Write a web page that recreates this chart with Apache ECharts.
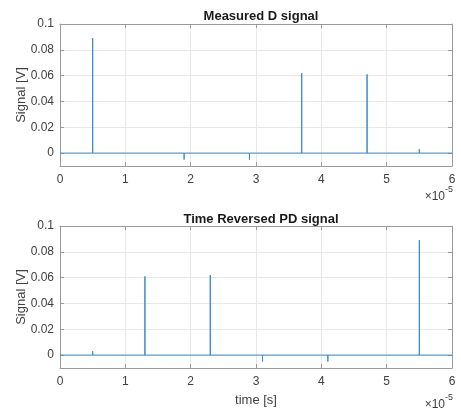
<!DOCTYPE html>
<html><head><meta charset="utf-8">
<script src="https://cdn.jsdelivr.net/npm/echarts@6/dist/echarts.min.js"></script>
<style>html,body{margin:0;padding:0;background:#fff}#c{width:461px;height:411px}</style>
</head><body><div id="c"></div>
<script>
// time in units of 1e-5 s
const xTicks = [0, 1, 2, 3, 4, 5, 6];
const yTicks = [0, 0.02, 0.04, 0.06, 0.08, 0.1];
const measuredTimes = [0.5, 1.9, 2.9, 3.7, 4.7, 5.5];
const measuredValues = [0.089, -0.005, -0.005, 0.062, 0.061, 0.003];
const reversedTimes = [0.5, 1.3, 2.3, 3.1, 4.1, 5.5];
const reversedValues = [0.003, 0.061, 0.062, -0.005, -0.005, 0.089];
const titles = ['Measured D signal', 'Time Reversed PD signal'];

function spikes(times, vals) {
  const d = [[0, 0]];
  times.forEach((t, i) => { d.push([t, 0], [t, vals[i]], [t, 0]); });
  d.push([6, 0]);
  return d;
}
const FONT = 'Liberation Sans, Arial, sans-serif';
const txt = '#404040';
const boxC = '#9a9a9a';
const grids = [
  {left: 60, right: 9, top: 24, height: 142, outerBoundsMode: 'none', containLabel: false},
  {left: 60, right: 9, top: 226, height: 142, outerBoundsMode: 'none', containLabel: false}
];
const xAxis = [], yAxis = [], series = [];
grids.forEach((g, i) => {
  xAxis.push({
    type: 'value', gridIndex: i, min: 0, max: 6, interval: 1,
    axisLine: {show: true, onZero: false, lineStyle: {color: boxC}},
    axisTick: {show: true, inside: true, length: 4, lineStyle: {color: boxC}},
    axisLabel: {color: txt, fontFamily: FONT, fontSize: 12, margin: 8},
    splitLine: {show: true, lineStyle: {color: '#e8e8e8'}},
    name: i === 1 ? 'time [s]' : '', nameLocation: 'middle', nameGap: 26, nameMoveOverlap: false,
    nameTextStyle: {color: txt, fontFamily: FONT, fontSize: 13}
  });
  xAxis.push({
    type: 'value', gridIndex: i, position: 'top', min: 0, max: 6, interval: 1,
    axisLine: {show: true, onZero: false, lineStyle: {color: boxC}},
    axisTick: {show: true, inside: true, length: 4, lineStyle: {color: boxC}},
    axisLabel: {show: false}, splitLine: {show: false}
  });
  yAxis.push({
    type: 'value', gridIndex: i, min: -0.01, max: 0.1,
    axisLine: {show: true, onZero: false, lineStyle: {color: boxC}},
    axisTick: {show: true, inside: true, length: 4, customValues: yTicks, lineStyle: {color: boxC}},
    axisLabel: {color: txt, fontFamily: FONT, fontSize: 12, margin: 6, customValues: yTicks,
      formatter: v => String(+v.toFixed(2))},
    splitLine: {show: true, lineStyle: {color: '#e8e8e8'}},
    name: 'Signal [V]', nameLocation: 'middle', nameGap: 32, nameRotate: 90, nameMoveOverlap: false,
    nameTextStyle: {color: txt, fontFamily: FONT, fontSize: 13}
  });
  yAxis.push({
    type: 'value', gridIndex: i, position: 'right', min: -0.01, max: 0.1,
    axisLine: {show: true, onZero: false, lineStyle: {color: boxC}},
    axisTick: {show: true, inside: true, length: 4, customValues: yTicks, lineStyle: {color: boxC}},
    axisLabel: {show: false}, splitLine: {show: false}
  });
  series.push({
    type: 'line', xAxisIndex: 2 * i, yAxisIndex: 2 * i, showSymbol: false, animation: false,
    lineStyle: {color: '#3a8cc6', width: 1},
    data: i === 0 ? spikes(measuredTimes, measuredValues) : spikes(reversedTimes, reversedValues)
  });
});
const chart = echarts.init(document.getElementById('c'));
chart.setOption({
  animation: false,
  title: titles.map((t, i) => ({
    text: t, left: 256, textAlign: 'center', top: i === 0 ? 5 : 208,
    textStyle: {fontFamily: FONT, fontSize: 13, fontWeight: 'bold', color: '#1a1a1a'}
  })),
  grid: grids,
  xAxis, yAxis, series,
  graphic: [185, 393].map(y => ({
    type: 'text', right: 8, top: y,
    style: {
      text: '{a|×10}{b|-5}', fontFamily: FONT,
      rich: {a: {fontSize: 12, fill: txt, fontFamily: FONT, padding: [6, 0, 0, 0]},
             b: {fontSize: 9, fill: txt, fontFamily: FONT, verticalAlign: 'top', padding: [0, 0, 6, 0]}}
    }
  }))
});
</script></body></html>
